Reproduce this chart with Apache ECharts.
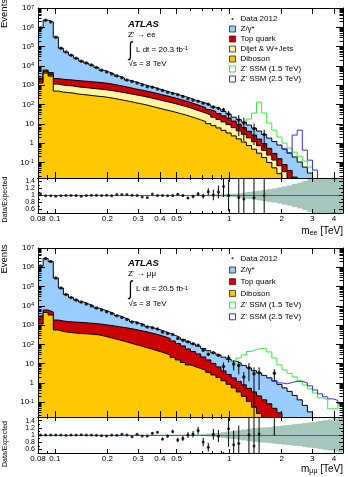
<!DOCTYPE html>
<html lang="en">
<head>
<meta charset="utf-8">
<title>Dilepton invariant mass</title>
<style>
  html, body { margin: 0; padding: 0; background: #fff; }
  #main { width: 348px; height: 477px; }
</style>
</head>
<body>
<div id="main"></div>
<script src="https://cdn.jsdelivr.net/npm/echarts@6/dist/echarts.min.js"></script>
<script>
// bin edges in TeV (constant width in log(m))
var binEdges = [0.08, 0.0856, 0.0915, 0.0979, 0.1047, 0.1119, 0.1197, 0.1280, 0.1369, 0.1464,
  0.1566, 0.1675, 0.1791, 0.1916, 0.2049, 0.2191, 0.2343, 0.2506, 0.2680, 0.2866,
  0.3065, 0.3278, 0.3506, 0.3749, 0.4010, 0.4288, 0.4586, 0.4904, 0.5245, 0.5609,
  0.5999, 0.6415, 0.6861, 0.7337, 0.7847, 0.8392, 0.8975, 0.9598, 1.0265, 1.0978,
  1.1740, 1.2556, 1.3428, 1.4361, 1.5358, 1.6425, 1.7566, 1.8786, 2.0091, 2.1486,
  2.2979, 2.4575, 2.6282, 2.8107, 3.0060, 3.2148, 3.4381, 3.6769, 3.9323, 4.2054, 4.5];

var massLabels = [0.08, 0.1, 0.2, 0.3, 0.4, 0.5, 1, 2, 3, 4];
var massTicks = [0.1, 0.2, 0.3, 0.4, 0.5, 1, 2, 3, 4];
var massMinorTicks = [0.09, 0.6, 0.7, 0.8, 0.9];
var eventTicks = [0.1, 1, 10, 100, 1e3, 1e4, 1e5, 1e6, 1e7];
var ratioTicks = [0.6, 0.8, 1, 1.2, 1.4];
var ratioMinorTicks = [0.7, 0.9, 1.1, 1.3];

// ---- ee channel: stacked (cumulative) background heights per bin ----
var eeZStack = [910000, 2350000, 1900000, 310000, 83000, 52000, 36000, 25000, 17800, 14000,
  11000, 8200, 6000, 4800, 3800, 2970, 2350, 1830, 1540, 1290,
  1070, 890, 750, 630, 525, 437, 367, 306, 257, 214,
  169, 141, 118, 93, 73, 58, 43, 32, 22, 16.5,
  12.3, 8.6, 6.0, 4.2, 2.76, 1.81, 1.2, 0.79, 0.49, 0.30,
  0.19, 0.104, 0.057, 0.028];
var eeTopStack = [2330, 6060, 4500, 2200, 2020, 1930, 1840, 1730, 1650, 1570,
  1480, 1400, 1320, 1230, 1090, 973, 866, 761, 660, 587,
  521, 457, 396, 343, 297, 255, 218, 184, 154, 129,
  105, 85, 69, 54, 43, 33.8, 25.8, 19.3, 13.8, 9.4,
  6.3, 4.1, 2.6, 1.61, 0.94, 0.53, 0.29, 0.154, 0.077, 0.038, 0.0173];
var eeJetStack = [1450, 4780, 3340, 1140, 1010, 953, 898, 816, 769, 724,
  675, 635, 598, 551, 507, 455, 409, 367, 326, 292,
  260, 228, 197, 171, 148, 129, 111, 94, 80, 67,
  54, 44, 35.8, 28.3, 22, 16.9, 12.5, 9.0, 6.3, 4.3,
  2.86, 1.86, 1.18, 0.73, 0.42, 0.239, 0.132, 0.067, 0.033, 0.014];
var eeDiboson = [1285, 4235, 2963, 495, 439, 414, 390, 346, 326, 307,
  282, 266, 251, 228, 207, 184, 163, 145, 127, 113,
  99, 86, 73, 63, 54, 47, 40, 34, 29, 24,
  19.7, 16.1, 13.0, 10.2, 8.0, 6.1, 4.55, 3.34, 2.36, 1.65,
  1.13, 0.75, 0.48, 0.30, 0.177, 0.098, 0.052, 0.026, 0.012];
// signal + background, starting at bin index ...From
var eeZp1500From = 40;
var eeZp1500 = [13, 17.5, 36, 133, 36, 10.9, 4.7, 2.05, 1.0, 0.55, 0.34, 0.21, 0.117, 0.057];
var eeZp2500From = 48;
var eeZp2500 = [0.5, 0.32, 2.6, 4.7, 0.43, 0.13, 0.04];
var eeData = [956000, 2330000, 1881000, 303800, 82170, 52000, 36000, 25000, 17440, 14000,
  11110, 8282, 6000, 4848, 3762, 3059, 2421, 1885, 1555, 1290,
  1027, 837, 780, 630, 525, 433, 367, 318, 257, 199,
  164, 147, 116, 103, 74, 64, 54, 32, null, 15.5,
  11.1, null, 5.6, null, 2.76];
var eeRatioErr = [0.005, 0.005, 0.005, 0.005, 0.005, 0.005, 0.005, 0.005, 0.005, 0.005,
  0.005, 0.005, 0.005, 0.005, 0.005, 0.005, 0.005, 0.005, 0.005, 0.005,
  0.005, 0.005, 0.005, 0.005, 0.005, 0.005, 0.02, 0.02, 0.03, 0.03,
  0.05, 0.06, 0.07, 0.1, 0.15, 0.18, 0.3, 0.45, null, 0.8,
  0.8, null, 0.8, null, 0.8];
var eeSystBand = [0.01, 0.01, 0.01, 0.01, 0.01, 0.01, 0.01, 0.01, 0.01, 0.01,
  0.01, 0.01, 0.01, 0.01, 0.01, 0.01, 0.01, 0.01, 0.01, 0.01,
  0.01, 0.01, 0.01, 0.01, 0.01, 0.01, 0.01, 0.01, 0.01, 0.01,
  0.01, 0.015, 0.02, 0.02, 0.025, 0.03, 0.035, 0.04, 0.05, 0.06,
  0.08, 0.1, 0.12, 0.14, 0.16, 0.18, 0.2, 0.23, 0.26, 0.29,
  0.33, 0.37, 0.42, 0.47, 0.52, 0.56, 0.6, 0.65, 0.7, 0.75];

// ---- mumu channel ----
var mmZStack = [1153000, 2820000, 1970000, 276000, 83600, 38500, 26900, 20000, 15700, 12400,
  9770, 7690, 6210, 5000, 3945, 3105, 2447, 1950, 1500, 1254,
  1049, 826, 691, 578, 472, 372, 293, 231, 180, 136,
  105, 81, 61, 47, 36, 28.2, 21.7, 16.9, 13.3, 10.5,
  8.07, 5.98, 4.34, 3.30, 2.45, 1.82, 1.24, 0.836, 0.55, 0.363,
  0.225, 0.132, 0.068, 0.0314];
var mmTopStack = [2960, 6060, 4775, 1837, 1630, 1500, 1448, 1396, 1347, 1285,
  1225, 1153, 1074, 988, 909, 826, 751, 682, 606, 538,
  472, 409, 354, 300, 248, 202, 150, 111, 82.6, 57.8,
  42.9, 31.8, 22.2, 15.6, 10.2, 6.75, 4.19, 2.76, 1.82, 1.20,
  0.79, 0.52, 0.342, 0.212, 0.132, 0.082, 0.048, 0.028];
var mmDiboson = [1140, 4500, 3337, 557, 466, 424, 399, 376, 358, 346,
  330, 311, 272, 233, 200, 169, 145, 122, 102, 86.7,
  73.3, 61.4, 51.3, 42.9, 35, 28.2, 20.9, 15.6, 11.5, 8.57,
  6.9, 5.6, 4.5, 3.5, 2.6, 1.9, 1.3, 0.85, 0.55, 0.34,
  0.2, 0.11, 0.055, 0.026];
var mmZp1500From = 38;
var mmZp1500 = [13.5, 19.7, 28.2, 42.9, 54.4, 61.3, 57.8, 40.4, 19.7, 8.57,
  4.72, 3.11, 2.05, 1.27, 0.79, 0.49, 0.30, 0.167, 0.132, 0.045, 0.045, 0.092];
var mmZp2500From = 45;
var mmZp2500 = [1.85, 1.3, 1.0, 0.89, 1.06, 1.2, 1.2, 1.0, 0.70, 0.43, 0.27, 0.19, 0.148, 0.124, 0.082];
var mmData = [1153000, 2820000, 1970000, 276000, 83600, 38100, 26900, 20000, 15860, 12400,
  9770, 7610, 6090, 4850, 3945, 3075, 2496, 1950, 1425, 1279,
  1018, 801, 726, 624, 420, 361, 322, 199, 162, 136,
  107, 91, 49, 31, 36.7, 27.4, 7.0, 19.8, 9.7, 8.0,
  2.0, 6.0, 3.0, 3.4, null, null, 3.2];
var mmRatioErr = [0.005, 0.005, 0.005, 0.005, 0.005, 0.005, 0.005, 0.005, 0.005, 0.005,
  0.005, 0.005, 0.005, 0.005, 0.005, 0.005, 0.005, 0.005, 0.005, 0.005,
  0.005, 0.02, 0.03, 0.03, 0.04, 0.04, 0.05, 0.06, 0.07, 0.08,
  0.09, 0.1, 0.12, 0.12, 0.15, 0.17, 0.2, 0.5, 0.4, 0.5,
  0.2, 0.8, 0.8, 0.9, null, null, 1.6];
var mmSystBand = [0.01, 0.01, 0.01, 0.01, 0.01, 0.01, 0.01, 0.01, 0.01, 0.01,
  0.01, 0.01, 0.01, 0.01, 0.01, 0.01, 0.01, 0.01, 0.01, 0.01,
  0.01, 0.01, 0.01, 0.01, 0.01, 0.01, 0.01, 0.01, 0.01, 0.01,
  0.01, 0.02, 0.03, 0.04, 0.05, 0.06, 0.08, 0.1, 0.11, 0.13,
  0.15, 0.17, 0.19, 0.2, 0.21, 0.22, 0.24, 0.25, 0.27, 0.28,
  0.3, 0.31, 0.33, 0.35, 0.37, 0.39, 0.41, 0.43, 0.46, 0.48];

var FONT = '"Liberation Sans", Arial, Helvetica, sans-serif';
var X_MIN = 0.08, X_MAX = 4.5, Y_MAX = 1e7, R_MIN = 0.5, R_MAX = 1.5;
var C_Z = '#99ccff', C_TOP = '#cc0000', C_JET = '#fff5a3', C_DIB = '#ffc800';
var C_ZP15 = '#3ce63c', C_ZP25 = '#3333cc', C_BAND = '#a4c7ba', C_ONE = '#e5251f';

// minor ticks of the log axis: 2..9 x 10^k
var eventMinorTicks = [];
for (var k = -2; k <= 6; k++) {
  for (var m = 2; m <= 9; m++) eventMinorTicks.push(+(m * Math.pow(10, k)).toPrecision(3));
}

var chart = echarts.init(document.getElementById('main'));

var option = {
  animation: false,
  backgroundColor: '#fff',
  textStyle: { fontFamily: FONT },
  grid: [], xAxis: [], yAxis: [], legend: [], graphic: [], series: []
};

function addGrid(top, height) {
  option.grid.push({ left: 38, width: 305, top: top, height: height, show: false, outerBoundsMode: 'none' });
  return option.grid.length - 1;
}

function tickAxis(list, base, pos, ticks, len, showLine, label) {
  var ax = {
    position: pos, z: 10,
    axisLine: { show: showLine, onZero: false, lineStyle: { color: '#000', width: 1 } },
    axisTick: { show: true, inside: true, length: len, customValues: ticks, lineStyle: { color: '#000', width: 1 } },
    axisLabel: label || { show: false },
    splitLine: { show: false }
  };
  for (var key in base) ax[key] = base[key];
  list.push(ax);
  return list.length - 1;
}

function powerLabel(v) {
  var e = Math.round(Math.log(v) / Math.LN10);
  if (e === 0) return '{b|1}';
  if (e === 1) return '{b|10}';
  return '{b|10}{e|' + e + '}';
}
var powRich = {
  b: { fontSize: 8, lineHeight: 8, verticalAlign: 'bottom', color: '#000', fontFamily: FONT },
  e: { fontSize: 5.5, lineHeight: 6, padding: [0, 0, 5, 0], verticalAlign: 'top', color: '#000', fontFamily: FONT }
};

function binCentre(i) { return Math.sqrt(binEdges[i] * binEdges[i + 1]); }

// step outline of a histogram: one point per bin edge, then a drop below the axis
function histLine(vals, from, yMin) {
  var pts = [];
  for (var i = 0; i < vals.length; i++) pts.push([binEdges[from + i], vals[i]]);
  var end = binEdges[from + vals.length];
  pts.push([end, vals[vals.length - 1]]);
  pts.push([end, yMin / 10]);
  return pts;
}

function errorBars(items, xi, yi, z) {
  return {
    type: 'custom', xAxisIndex: xi, yAxisIndex: yi, silent: true, clip: true, z: z,
    encode: { x: 0, y: [1, 2] },
    renderItem: function (params, api) {
      var a = api.coord([api.value(0), api.value(1)]);
      var b = api.coord([api.value(0), api.value(2)]);
      return { type: 'line', shape: { x1: a[0], y1: a[1], x2: b[0], y2: b[1] },
        style: { stroke: '#000', lineWidth: 1 } };
    },
    data: items
  };
}

function buildPanel(cfg) {
  var gMain = addGrid(cfg.top, cfg.mainH);
  var gRatio = addGrid(cfg.top + cfg.mainH, cfg.ratioH);
  function xb(g) { return { type: 'log', logBase: 10, gridIndex: g, min: X_MIN, max: X_MAX }; }
  function yb(g) { return { type: 'log', logBase: 10, gridIndex: g, min: cfg.yMin, max: Y_MAX }; }
  function rb(g) { return { type: 'value', gridIndex: g, min: R_MIN, max: R_MAX }; }

  var xm = tickAxis(option.xAxis, xb(gMain), 'bottom', massTicks, 6, true);
  tickAxis(option.xAxis, xb(gMain), 'bottom', massMinorTicks, 3, false);
  tickAxis(option.xAxis, xb(gMain), 'top', massTicks, 6, true);
  tickAxis(option.xAxis, xb(gMain), 'top', massMinorTicks, 3, false);
  var xr = tickAxis(option.xAxis, xb(gRatio), 'bottom', massTicks, 4, true, {
    show: true, customValues: massLabels, fontSize: 8, color: '#000', margin: 2,
    formatter: function (v) { return String(+(+v).toPrecision(3)); }
  });
  tickAxis(option.xAxis, xb(gRatio), 'bottom', massMinorTicks, 2, false);
  tickAxis(option.xAxis, xb(gRatio), 'top', massTicks, 4, true);
  tickAxis(option.xAxis, xb(gRatio), 'top', massMinorTicks, 2, false);

  var ym = tickAxis(option.yAxis, yb(gMain), 'left', eventTicks, 7, true, {
    show: true, customValues: eventTicks, formatter: powerLabel, rich: powRich, margin: 4, color: '#000'
  });
  tickAxis(option.yAxis, yb(gMain), 'left', eventMinorTicks, 3.5, false);
  tickAxis(option.yAxis, yb(gMain), 'right', eventTicks, 7, true);
  tickAxis(option.yAxis, yb(gMain), 'right', eventMinorTicks, 3.5, false);
  var yr = tickAxis(option.yAxis, rb(gRatio), 'left', ratioTicks, 4, true, {
    show: true, customValues: ratioTicks, fontSize: 7, color: '#000', margin: 3
  });
  tickAxis(option.yAxis, rb(gRatio), 'left', ratioMinorTicks, 2, false);
  tickAxis(option.yAxis, rb(gRatio), 'right', ratioTicks, 4, true);
  tickAxis(option.yAxis, rb(gRatio), 'right', ratioMinorTicks, 2, false);

  // stacked backgrounds, outermost first
  cfg.stacks.forEach(function (s, k) {
    option.series.push({
      name: s.name, type: 'line', xAxisIndex: xm, yAxisIndex: ym, step: 'end', symbol: 'none',
      silent: true, z: 2 + k, data: histLine(s.vals, 0, cfg.yMin),
      lineStyle: { color: '#000', width: 1 }, itemStyle: { color: s.color },
      areaStyle: { color: s.color, opacity: 1 }
    });
  });
  cfg.signals.forEach(function (s) {
    option.series.push({
      name: s.name, type: 'line', xAxisIndex: xm, yAxisIndex: ym, step: 'end', symbol: 'none',
      silent: true, z: 8, data: histLine(s.vals, s.from, cfg.yMin),
      lineStyle: { color: s.color, width: 1 }, itemStyle: { color: s.color }
    });
  });

  var pts = [], errs = [], rPts = [], rErrs = [], band = [];
  cfg.data.forEach(function (d, i) {
    if (d == null) return;
    var c = binCentre(i), exp = cfg.total[i], r = d / exp;
    var e = exp * cfg.ratioErr[i], re = cfg.ratioErr[i];
    pts.push([c, d]);
    if (d + e > cfg.yMin) errs.push([c, Math.max(d - e, cfg.yMin), Math.min(d + e, Y_MAX)]);
    rPts.push([c, r]);
    if (r + re > R_MIN && r - re < R_MAX) rErrs.push([c, Math.max(r - re, R_MIN), Math.min(r + re, R_MAX)]);
  });
  cfg.band.forEach(function (b, i) {
    band.push([binEdges[i], binEdges[i + 1], Math.max(1 - b, R_MIN), Math.min(1 + b, R_MAX)]);
  });

  option.series.push(errorBars(errs, xm, ym, 9));
  option.series.push({
    name: 'Data 2012', type: 'scatter', xAxisIndex: xm, yAxisIndex: ym, symbol: 'circle',
    symbolSize: 3.5, itemStyle: { color: '#000' }, silent: true, z: 9, data: pts
  });

  option.series.push({
    name: 'syst', type: 'custom', xAxisIndex: xr, yAxisIndex: yr, silent: true, clip: true, z: 2,
    encode: { x: [0, 1], y: [2, 3] },
    renderItem: function (params, api) {
      var p0 = api.coord([api.value(0), api.value(3)]);
      var p1 = api.coord([api.value(1), api.value(2)]);
      return { type: 'rect', shape: { x: p0[0], y: p0[1], width: p1[0] - p0[0] + 0.6, height: p1[1] - p0[1] },
        style: { fill: C_BAND } };
    },
    data: band,
    markLine: {
      silent: true, symbol: ['none', 'none'], label: { show: false },
      lineStyle: { color: C_ONE, width: 1, type: 'solid' }, data: [{ yAxis: 1 }]
    }
  });
  option.series.push(errorBars(rErrs, xr, yr, 9));
  option.series.push({
    name: 'ratio', type: 'scatter', xAxisIndex: xr, yAxisIndex: yr, symbol: 'circle',
    symbolSize: 3, itemStyle: { color: '#000' }, silent: true, z: 9, data: rPts, clip: true
  });

  // legend
  var dotIcon = 'path://M0,0M8,8M2.6,4A1.4,1.4,0,1,1,5.4,4A1.4,1.4,0,1,1,2.6,4Z';
  var items = [{ name: 'Data 2012', icon: dotIcon, itemStyle: { color: '#000', borderWidth: 0 } }];
  cfg.stacks.forEach(function (s) {
    items.push({ name: s.name, icon: 'rect', itemStyle: { color: s.color, borderColor: '#222', borderWidth: 0.8 } });
  });
  cfg.signals.forEach(function (s) {
    items.push({ name: s.name, icon: 'rect', itemStyle: { color: '#fff', borderColor: s.color, borderWidth: 1 } });
  });
  option.legend.push({
    orient: 'vertical', left: 229, top: cfg.legendTop, padding: 0, itemGap: cfg.legendGap,
    itemWidth: 6, itemHeight: 6, selectedMode: false, data: items,
    textStyle: { fontSize: 8, color: '#000', lineHeight: 10, fontFamily: FONT }
  });

  // texts
  var dy = cfg.textDy;
  var g = option.graphic;
  g.push({ type: 'text', x: 128, y: 24 + dy, z: 20, style: { text: 'ATLAS', fontSize: 9.5, fontWeight: 'bold', fontStyle: 'italic', fontFamily: FONT, fill: '#000', verticalAlign: 'middle' } });
  g.push({ type: 'text', x: 128, y: 34.5 + dy, z: 20, style: { text: cfg.channel, fontSize: 8, fontFamily: FONT, fill: '#000', verticalAlign: 'middle' } });
  g.push({ type: 'text', x: 128.5, y: 50 + dy, scaleY: 1.45, z: 20, style: { text: '\u222B', fontSize: 14, fontFamily: FONT, fill: '#000', verticalAlign: 'middle' } });
  g.push({ type: 'text', x: 136, y: 49.5 + dy, z: 20, style: {
    text: '{a|L dt = ' + cfg.lumi + ' fb}{e|-1}', verticalAlign: 'middle',
    rich: { a: { fontSize: 8, lineHeight: 8, verticalAlign: 'bottom', fontFamily: FONT, color: '#000' },
            e: { fontSize: 5.5, lineHeight: 6, padding: [0, 0, 4, 0], verticalAlign: 'top', fontFamily: FONT, color: '#000' } } } });
  g.push({ type: 'text', x: 128.5, y: 64 + dy, z: 20, style: { text: '\u221As = 8 TeV', fontSize: 8, fontFamily: FONT, fill: '#000', verticalAlign: 'middle' } });
  g.push({ type: 'text', x: 4, y: cfg.eventsY, rotation: Math.PI / 2, z: 20, style: { text: 'Events', fontSize: 9.5, fontFamily: FONT, fill: '#000', align: 'center', verticalAlign: 'middle' } });
  g.push({ type: 'text', x: 5, y: cfg.ratioTitleY, rotation: Math.PI / 2, z: 20, style: { text: 'Data/Expected', fontSize: 7, fontFamily: FONT, fill: '#000', align: 'center', verticalAlign: 'middle' } });
  g.push({ type: 'text', x: 343, y: cfg.xTitleY, z: 20, style: {
    text: '{m|m}{s|' + cfg.sub + '}{m| [TeV]}', align: 'right', verticalAlign: 'middle',
    rich: { m: { fontSize: 10, lineHeight: 10, verticalAlign: 'top', fontFamily: FONT, color: '#000' },
            s: { fontSize: 7, lineHeight: 7, padding: [5, 0, 0, 0], verticalAlign: 'bottom', fontFamily: FONT, color: '#000' } } } });
}

buildPanel({
  top: 8, mainH: 170, ratioH: 35, yMin: 0.0155,
  stacks: [
    { name: 'Z/\u03B3*', vals: eeZStack, color: C_Z },
    { name: 'Top quark', vals: eeTopStack, color: C_TOP },
    { name: 'Dijet & W+Jets', vals: eeJetStack, color: C_JET },
    { name: 'Diboson', vals: eeDiboson, color: C_DIB }
  ],
  signals: [
    { name: "Z' SSM (1.5 TeV)", vals: eeZp1500, from: eeZp1500From, color: C_ZP15 },
    { name: "Z' SSM (2.5 TeV)", vals: eeZp2500, from: eeZp2500From, color: C_ZP25 }
  ],
  total: eeZStack, data: eeData, ratioErr: eeRatioErr, band: eeSystBand,
  legendTop: 14, legendGap: 0, textDy: 0,
  channel: "Z' \u2192 ee", lumi: '20.3', sub: 'ee',
  eventsY: 13.5, ratioTitleY: 199.5, xTitleY: 231.5
});

buildPanel({
  top: 248, mainH: 169, ratioH: 36, yMin: 0.017,
  stacks: [
    { name: 'Z/\u03B3*', vals: mmZStack, color: C_Z },
    { name: 'Top quark', vals: mmTopStack, color: C_TOP },
    { name: 'Diboson', vals: mmDiboson, color: C_DIB }
  ],
  signals: [
    { name: "Z' SSM (1.5 TeV)", vals: mmZp1500, from: mmZp1500From, color: C_ZP15 },
    { name: "Z' SSM (2.5 TeV)", vals: mmZp2500, from: mmZp2500From, color: C_ZP25 }
  ],
  total: mmZStack, data: mmData, ratioErr: mmRatioErr, band: mmSystBand,
  legendTop: 253.3, legendGap: 1.7, textDy: 239.5,
  channel: "Z' \u2192 \u03BC\u03BC", lumi: '20.5', sub: '\u03BC\u03BC',
  eventsY: 259, ratioTitleY: 444, xTitleY: 469.5
});

chart.setOption(option);
</script>
</body>
</html>
